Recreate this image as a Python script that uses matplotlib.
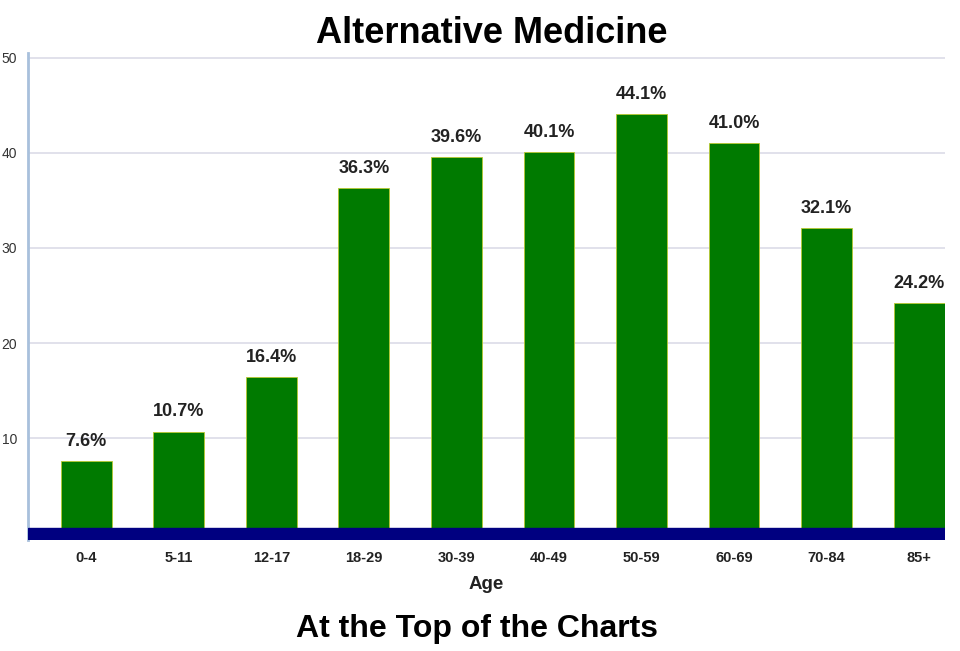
import matplotlib.pyplot as plt

ages = ["0-4", "5-11", "12-17", "18-29", "30-39", "40-49", "50-59", "60-69", "70-84", "85+"]
pct = [7.6, 10.7, 16.4, 36.3, 39.6, 40.1, 44.1, 41.0, 32.1, 24.2]
yticks = [10, 20, 30, 40, 50]

plt.rcParams['font.family'] = ['Liberation Sans', 'DejaVu Sans']

fig = plt.figure(figsize=(9.6, 6.51), dpi=100)
ax = fig.add_axes([28 / 960, 1 - 540 / 651, (945 - 28) / 960, (540 - 53) / 651])

x = range(len(ages))
ax.bar(x, pct, width=0.55, color='#007a00', edgecolor='#b8c830', linewidth=0.6, zorder=2)
for i, v in zip(x, pct):
    ax.annotate(f"{v:.1f}%", (i, v), xytext=(0, 8), textcoords='offset points',
                ha='center', va='bottom', fontsize=13, fontweight='bold', color='#222222')

# navy base band
ax.axhspan(-0.7, 0.6, color='#000080', zorder=3)

ax.set_xlim(-0.63, 9.28)
ax.set_ylim(-0.7, 50.5)
ax.set_yticks(yticks)
ax.set_yticklabels([str(t) for t in yticks], fontsize=10, color='#333333')
ax.set_xticks(list(x))
ax.set_xticklabels(ages, fontsize=10.5, fontweight='bold', color='#222222')
ax.tick_params(axis='both', length=0)
ax.tick_params(axis='x', pad=8)
ax.tick_params(axis='y', pad=8)
ax.yaxis.grid(True, color='#dcdce8', linewidth=1.2, zorder=0)
ax.set_axisbelow(True)
for s in ['top', 'right', 'bottom']:
    ax.spines[s].set_visible(False)
ax.spines['left'].set_color('#a8c0dc')
ax.spines['left'].set_linewidth(2)

ax.set_xlabel("Age", fontsize=13.5, fontweight='bold', color='#222222', labelpad=8)

fig.text(492 / 960, 1 - 43 / 651, "Alternative Medicine", ha='center', va='baseline',
         fontsize=26, fontweight='bold', color='black')
fig.text(477 / 960, 1 - 637 / 651, "At the Top of the Charts", ha='center', va='baseline',
         fontsize=23, fontweight='bold', color='black')

fig.savefig("out.png", dpi=100)
